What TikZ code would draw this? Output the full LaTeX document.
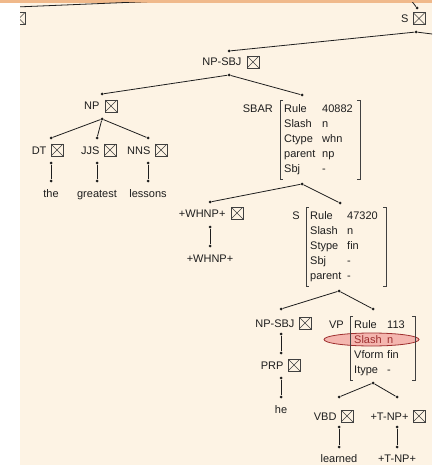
\documentclass[tikz,border=0pt]{standalone}
\usepackage{fontspec}
\setmainfont{Liberation Sans}
\usetikzlibrary{positioning}

\definecolor{bar}{HTML}{F0B98B}
\definecolor{panel}{HTML}{FDF3E4}
\definecolor{hilite}{HTML}{F4B6AF}
\definecolor{hiliteline}{HTML}{9E2F2F}
\definecolor{ink}{HTML}{1E1E1E}

\begin{document}
\begin{tikzpicture}[
  x=1pt, y=-1pt,
  font=\fontsize{11}{15}\selectfont,
  every node/.style={text=ink},
  cat/.style={inner sep=0pt, text height=8pt, text depth=0pt},
  leaf/.style={inner sep=0pt, anchor=base},
  xbox/.style={draw=ink!85, line width=.7pt, minimum size=12pt, inner sep=0pt,
    path picture={\draw[line width=.5pt]
      (path picture bounding box.north west) -- (path picture bounding box.south east)
      (path picture bounding box.south west) -- (path picture bounding box.north east);}},
  avm/.style={anchor=north west, inner xsep=4pt, inner ysep=2pt},
  bracket/.style={draw=ink!85, line width=.7pt},
  dot/.style={circle, fill=ink, inner sep=0pt, minimum size=3pt},
  branch/.style={draw=ink, line width=.8pt}
]
  \useasboundingbox (0,0) rectangle (432,465);
  \fill[white] (0,3) rectangle (20,465);
  \fill[panel] (20,3) rectangle (432,465);
  \fill[bar] (0,0) rectangle (432,3);

  \begin{scope}
  \clip (20,3) rectangle (432,465);

  % part of the tree outside the window
  \coordinate (root-b) at (404,-9);
  \coordinate (left-t) at (-8,8);
  \coordinate (sr-t) at (480,40);
  \node[xbox] (left-x) at (19,18.5) {};

  % S
  \node[xbox] (s-x) at (419,18.5) {};
  \node[cat, left=4pt of s-x] (s) {S};
  \node[dot] (s-t) at (417,8) {};
  \node[dot] (s-b) at (416,32) {};

  % NP-SBJ
  \node[xbox] (npsbj-x) at (253,62) {};
  \node[cat, left=5pt of npsbj-x] (npsbj) {NP-SBJ};
  \node[dot] (npsbj-t) at (229,51) {};
  \node[dot] (npsbj-b) at (229,75) {};

  % NP
  \node[xbox] (np-x) at (111,106) {};
  \node[cat, left=5pt of np-x] (np) {NP};
  \node[dot] (np-t) at (102,94) {};
  \node[dot] (np-b) at (102,119) {};

  \node[xbox] (dt-x) at (57,150) {};
  \node[cat, left=4pt of dt-x] (dt) {DT};
  \node[dot] (dt-t) at (51,138) {};
  \node[dot] (dt-b) at (51,163) {};
  \node[dot] (the-t) at (51,181) {};
  \node[leaf] (the) at (51,197) {the};

  \node[xbox] (jjs-x) at (110,150) {};
  \node[cat, left=4pt of jjs-x] (jjs) {JJS};
  \node[dot] (jjs-t) at (97,138) {};
  \node[dot] (jjs-b) at (97,163) {};
  \node[dot] (greatest-t) at (97,181) {};
  \node[leaf] (greatest) at (97,197) {greatest};

  \node[xbox] (nns-x) at (161,150) {};
  \node[cat, left=4pt of nns-x] (nns) {NNS};
  \node[dot] (nns-t) at (148,138) {};
  \node[dot] (nns-b) at (148,163) {};
  \node[dot] (lessons-t) at (148,181) {};
  \node[leaf] (lessons) at (148,197) {lessons};

  % SBAR
  \node[avm] (sbar) at (280,100) {\begin{tabular}{@{}p{38pt}@{}p{34pt}@{}}
    Rule & 40882\\ Slash & n\\ Ctype & whn\\ parent & np\\ Sbj & -\end{tabular}};
  \node[cat, anchor=base east] (sbar-l) at (273,112.5) {SBAR};
  \draw[bracket] ([xshift=3pt]sbar.north west) -| (sbar.south west) -- ++(3pt,0)
    ([xshift=-3pt]sbar.north east) -| (sbar.south east) -- ++(-3pt,0);
  \node[dot] (sbar-t) at (302,95) {};
  \node[dot] (sbar-b) at (302,184) {};

  \node[xbox] (whnp-x) at (237,213) {};
  \node[cat, left=5pt of whnp-x] (whnp) {+WHNP+};
  \node[dot] (whnp-t) at (210,202) {};
  \node[dot] (whnp-b) at (210,227) {};
  \node[dot] (whnpw-t) at (210,246) {};
  \node[leaf] (whnpw) at (210,262) {+WHNP+};

  % S inside SBAR
  \node[avm] (s2) at (306,207) {\begin{tabular}{@{}p{37pt}@{}p{35pt}@{}}
    Rule & 47320\\ Slash & n\\ Stype & fin\\ Sbj & -\\ parent & -\end{tabular}};
  \node[cat, anchor=base east] (s2-l) at (300,219.5) {S};
  \draw[bracket] ([xshift=3pt]s2.north west) -| (s2.south west) -- ++(3pt,0)
    ([xshift=-3pt]s2.north east) -| (s2.south east) -- ++(-3pt,0);
  \node[dot] (s2-t) at (340,203) {};
  \node[dot] (s2-b) at (339,291) {};

  \node[xbox] (npsbj2-x) at (305,323) {};
  \node[cat, left=4pt of npsbj2-x] (npsbj2) {NP-SBJ};
  \node[dot] (npsbj2-t) at (281,309) {};
  \node[dot] (npsbj2-b) at (281,334) {};

  \node[xbox] (prp-x) at (294,365) {};
  \node[cat, left=4pt of prp-x] (prp) {PRP};
  \node[dot] (prp-t) at (281,353) {};
  \node[dot] (prp-b) at (281,378) {};
  \node[dot] (he-t) at (281,397) {};
  \node[leaf] (he) at (281,413) {he};

  % VP
  \draw[hiliteline, fill=hilite, line width=.8pt] (371.5,339.5) ellipse [x radius=47.5pt, y radius=6.5pt];
  \node[avm] (vp) at (350,316) {\begin{tabular}{@{}p{33pt}@{}p{24pt}@{}}
    Rule & 113\\ \textcolor{hiliteline}{Slash} & \textcolor{hiliteline}{n}\\ Vform & fin\\ Itype & -\end{tabular}};
  \node[cat, anchor=base east] (vp-l) at (344,328.5) {VP};
  \draw[bracket] ([xshift=3pt]vp.north west) -| (vp.south west) -- ++(3pt,0)
    ([xshift=-3pt]vp.north east) -| (vp.south east) -- ++(-3pt,0);
  \node[dot] (vp-t) at (373,309) {};
  \node[dot] (vp-b) at (373,383) {};

  \node[xbox] (vbd-x) at (347,416) {};
  \node[cat, left=4pt of vbd-x] (vbd) {VBD};
  \node[dot] (vbd-t) at (339,397) {};
  \node[dot] (vbd-b) at (339,427) {};
  \node[dot] (learned-t) at (339,447) {};
  \node[leaf] (learned) at (339,462) {learned};

  \node[xbox] (tnp-x) at (419,416) {};
  \node[cat, left=4pt of tnp-x] (tnp) {+T-NP+};
  \node[dot] (tnp-t) at (397,397) {};
  \node[dot] (tnp-b) at (397,427) {};
  \node[dot] (tnpw-t) at (397,447) {};
  \node[leaf] (tnpw) at (397,462) {+T-NP+};

  % branches
  \draw[branch] (root-b) -- (left-t) (root-b) -- (s-t);
  \draw[branch] (s-b) -- (npsbj-t) (s-b) -- (sr-t);
  \draw[branch] (npsbj-b) -- (np-t) (npsbj-b) -- (sbar-t);
  \draw[branch] (np-b) -- (dt-t) (np-b) -- (jjs-t) (np-b) -- (nns-t);
  \draw[branch] (dt-b) -- (the-t) (jjs-b) -- (greatest-t) (nns-b) -- (lessons-t);
  \draw[branch] (sbar-b) -- (whnp-t) (sbar-b) -- (s2-t);
  \draw[branch] (whnp-b) -- (whnpw-t);
  \draw[branch] (s2-b) -- (npsbj2-t) (s2-b) -- (vp-t);
  \draw[branch] (npsbj2-b) -- (prp-t) (prp-b) -- (he-t);
  \draw[branch] (vp-b) -- (vbd-t) (vp-b) -- (tnp-t);
  \draw[branch] (vbd-b) -- (learned-t) (tnp-b) -- (tnpw-t);
  \end{scope}
\end{tikzpicture}
\end{document}
